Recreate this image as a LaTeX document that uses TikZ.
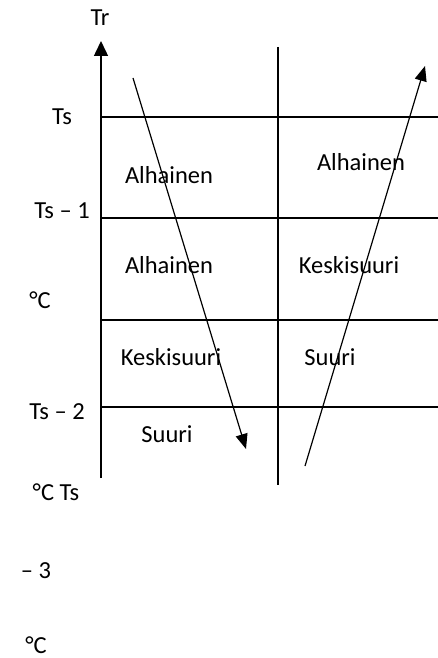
\documentclass[tikz,border=0pt]{standalone}
\usepackage{fontspec}
\setmainfont{Carlito}
\usetikzlibrary{arrows.meta}
\usetikzlibrary{positioning}

\begin{document}
\begin{tikzpicture}[x=1pt, y=-1pt, every node/.style={font=\fontsize{24.5}{28}\selectfont, inner sep=0pt}]
		\tikzstyle{grid}=[line width=1.5pt]
		\tikzstyle{trend}=[line width=1.2pt, -{Triangle[length=15pt,width=12pt]}]
		\tikzstyle{cell}=[anchor=center]

		\useasboundingbox (0,0) rectangle (438,658);

    % Axis
		\coordinate (axbot) at (101,478);
		\coordinate (axtop) at (101,41);
		\node(tr) at (100,18){Tr};
		\draw[grid, -{Triangle[length=15pt,width=14pt]}] (axbot) -- (axtop);

    % Grid lines
		\coordinate (l1) at (101,117);
		\coordinate (r1) at (438,117);
		\coordinate (l2) at (101,218);
		\coordinate (r2) at (438,218);
		\coordinate (l3) at (101,320);
		\coordinate (r3) at (438,320);
		\coordinate (l4) at (101,407);
		\coordinate (r4) at (438,407);
		\draw[grid] (l1) -- (r1);
		\draw[grid] (l2) -- (r2);
		\draw[grid] (l3) -- (r3);
		\draw[grid] (l4) -- (r4);

		\coordinate (mtop) at (278,47);
		\coordinate (mbot) at (278,485);
		\draw[line width=1.2pt] (mtop) -- (mbot);

    % Left labels
		\node(ts) at (62,117){Ts};
		\node(ts1) at (62,211){Ts -- 1};
		\node(c1) at (40,300){°C};
		\node(ts2) at (57,412){Ts -- 2};
		\node(c2) at (56,492){°C Ts};
		\node(m3) at (36,571){-- 3};
		\node(c3) at (36,645){°C};

    % Cells
		\node[cell](a1) at (169,175){Alhainen};
		\node[cell](a2) at (169,265){Alhainen};
		\node[cell](k1) at (171,357){Keskisuuri};
		\node[cell](s1) at (167,434){Suuri};
		\node[cell](a3) at (361,162){Alhainen};
		\node[cell](k2) at (349,265){Keskisuuri};
		\node[cell](s2) at (330,357){Suuri};

    % Arrows
		\coordinate (dstart) at (133,78);
		\coordinate (dend) at (246,449);
		\coordinate (ustart) at (305,466);
		\coordinate (uend) at (425,66);
		\draw[trend] (dstart) -- (dend);
		\draw[trend] (ustart) -- (uend);

  \end{tikzpicture}
\end{document}
